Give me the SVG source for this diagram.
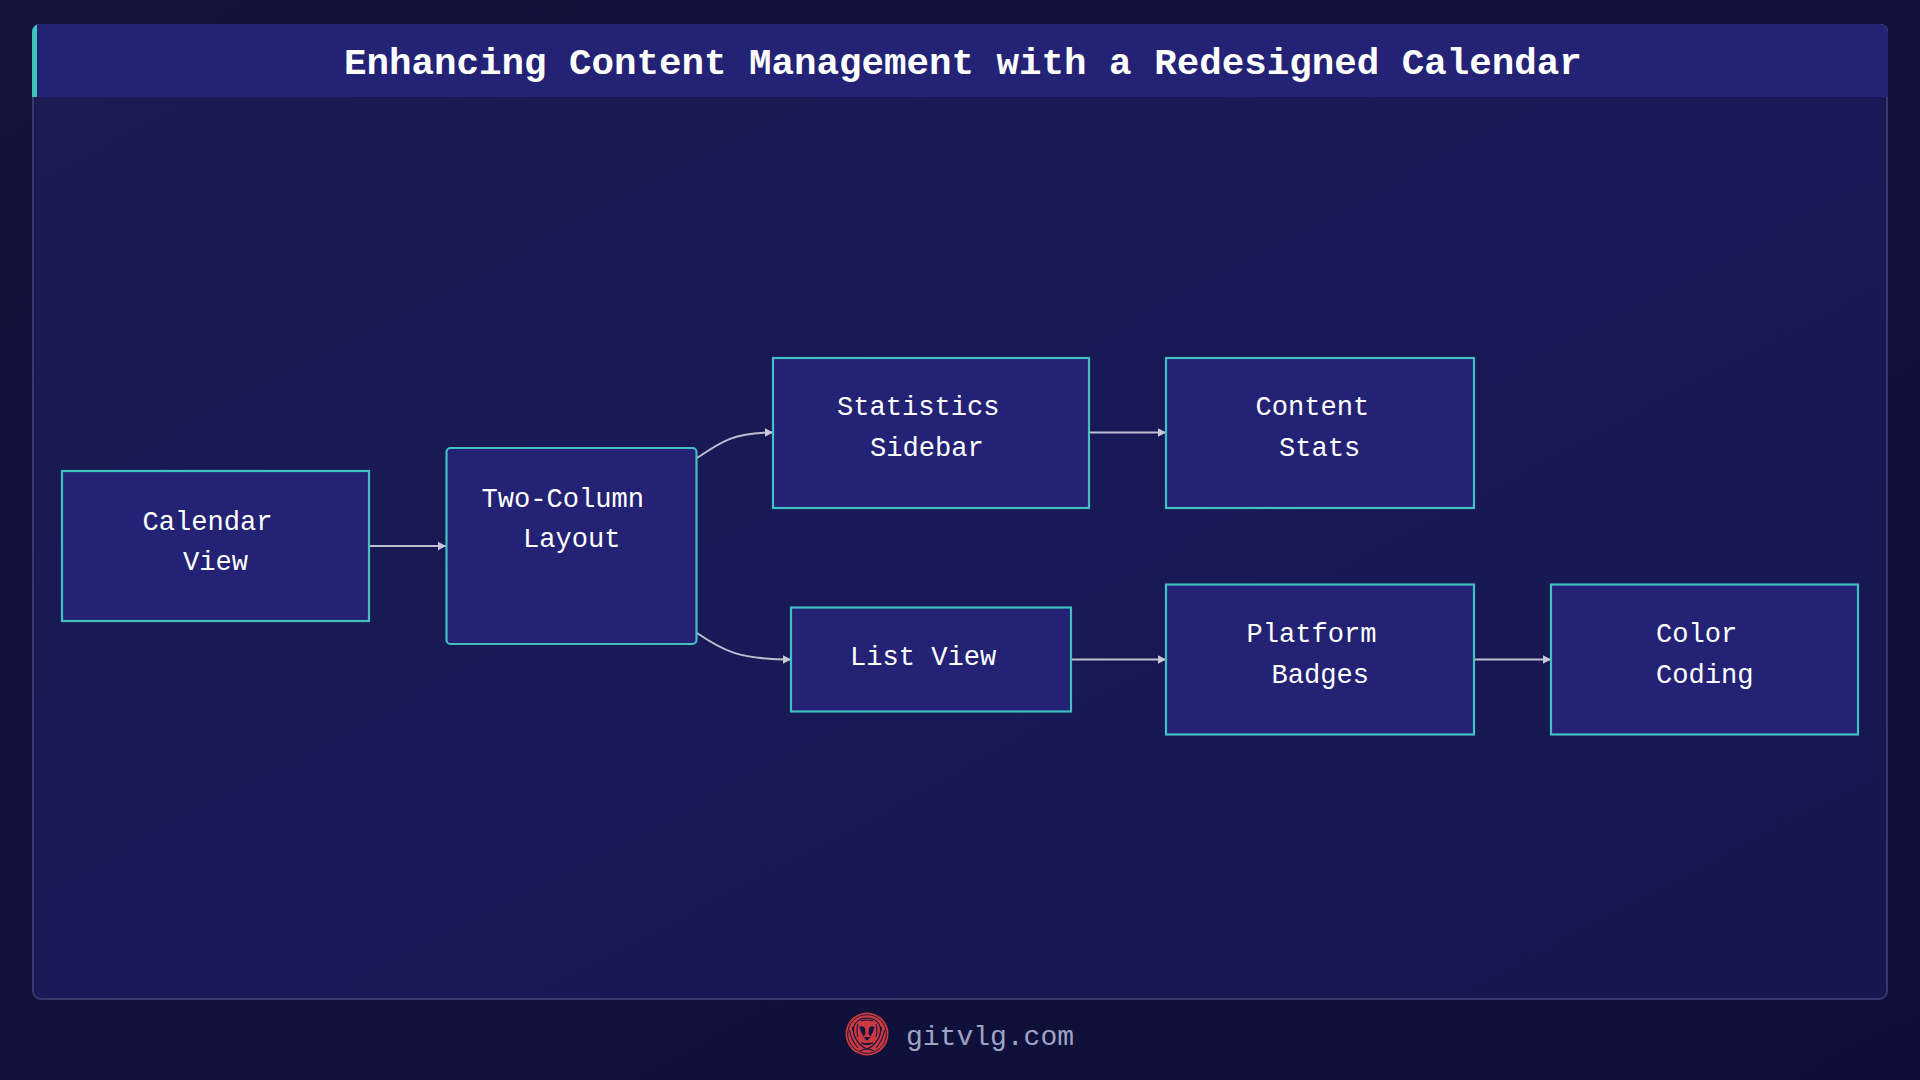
<svg xmlns="http://www.w3.org/2000/svg" width="1920" height="1080" viewBox="0 0 1920 1080">
<defs>
<linearGradient id="bg" x1="0" y1="0" x2="1" y2="1"><stop offset="0" stop-color="#13143c"/><stop offset="1" stop-color="#0d0f39"/></linearGradient>
<linearGradient id="panel" x1="0" y1="0" x2="1" y2="1"><stop offset="0" stop-color="#1b1b50"/><stop offset="0.5" stop-color="#181956"/><stop offset="1" stop-color="#17174f"/></linearGradient>
<marker id="arrow" markerUnits="userSpaceOnUse" markerWidth="10" markerHeight="10" refX="8.5" refY="5" orient="auto"><path d="M0,0.5 L8.5,5 L0,9.5 Z" fill="#c8c8d8"/></marker>
<clipPath id="hdr"><rect x="32" y="24" width="1856" height="90" rx="8"/></clipPath>
</defs>
<style>
.node{fill:#232275;stroke:#42bfc0;stroke-width:2.2}
.lbl{font-family:"Liberation Mono","DejaVu Sans Mono",monospace;font-size:27.1px;fill:#ffffff}
.edge{fill:none;stroke:#bfbfd2;stroke-width:2;marker-end:url(#arrow)}
.title{font-family:"Liberation Mono","DejaVu Sans Mono",monospace;font-size:37.5px;font-weight:700;fill:#ffffff}
.foot{font-family:"Liberation Mono","DejaVu Sans Mono",monospace;font-size:28px;fill:#9ea3c4}
.ink{fill:none;stroke:#14143f;stroke-width:1.1}
</style>
<rect width="1920" height="1080" fill="url(#bg)"/>
<rect x="33" y="25" width="1854" height="974" rx="8" fill="url(#panel)" stroke="#38386c" stroke-width="2"/>
<g id="header">
<g clip-path="url(#hdr)">
<rect x="32" y="24" width="1856" height="73" fill="#3fc4bc"/>
<rect x="37" y="24" width="1851" height="73" fill="#232275"/>
</g>
<text class="title" x="344" y="73.5">Enhancing Content Management with a Redesigned Calendar</text>
</g>
<g id="connectors">
<path class="edge" d="M370,546 L446,546"/>
<path class="edge" d="M697,458 C722,441 735,432.5 773,432.5"/>
<path class="edge" d="M697,633 C722,650 738,659.5 791,659.5"/>
<path class="edge" d="M1090,432.5 L1166,432.5"/>
<path class="edge" d="M1072,659.5 L1166,659.5"/>
<path class="edge" d="M1475,659.5 L1551,659.5"/>
</g>
<g id="calendar-view"><rect class="node" x="62" y="471" width="307" height="150"/><text class="lbl" x="142.5" y="529.5">Calendar</text><text class="lbl" x="183" y="569.5">View</text></g>
<g id="two-column-layout"><rect class="node" x="446.5" y="448" width="250" height="196" rx="4"/><text class="lbl" x="481.5" y="506.5">Two-Column</text><text class="lbl" x="523" y="546.5">Layout</text></g>
<g id="statistics-sidebar"><rect class="node" x="773" y="358" width="316" height="150"/><text class="lbl" x="837" y="415">Statistics</text><text class="lbl" x="870" y="456">Sidebar</text></g>
<g id="list-view"><rect class="node" x="791" y="607.5" width="280" height="104"/><text class="lbl" x="850" y="665">List View</text></g>
<g id="content-stats"><rect class="node" x="1166" y="358" width="308" height="150"/><text class="lbl" x="1255.5" y="415">Content</text><text class="lbl" x="1279" y="456">Stats</text></g>
<g id="platform-badges"><rect class="node" x="1166" y="584.5" width="308" height="150"/><text class="lbl" x="1246.5" y="642">Platform</text><text class="lbl" x="1271.5" y="683">Badges</text></g>
<g id="color-coding"><rect class="node" x="1551" y="584.5" width="307" height="150"/><text class="lbl" x="1656" y="642">Color</text><text class="lbl" x="1656" y="683">Coding</text></g>
<g id="footer">
<g id="logo">
<circle cx="867" cy="1034" r="21.5" fill="#cc3a40"/>
<circle cx="867" cy="1034" r="19.3" fill="none" stroke="#14143f" stroke-width="0.9"/>
<path class="ink" d="M849.5,1030 Q851,1040 858,1048 M884.5,1030 Q883,1040 876,1048 M852.5,1027 Q853.5,1037 860,1044 M881.5,1027 Q880.5,1037 874,1044 M860,1051 Q867,1047 874,1051"/>
<path d="M867,1018 C874,1018 880,1022 880.5,1029 C881,1037 875,1046 867,1049 C859,1046 853,1037 853.5,1029 C854,1022 860,1018 867,1018 Z" fill="#cc3a40" stroke="#14143f" stroke-width="1.2"/>
<path class="ink" d="M858,1024 Q856,1030 858,1037 M876,1024 Q878,1030 876,1037 M861,1021 Q867,1019 873,1021"/>
<path d="M859.5,1027 Q863,1025 865,1028 L865.5,1034 L863,1037 L871,1037 L868.5,1034 L869,1028 Q871,1025 874.5,1027 L873,1032 L869.5,1038 L867,1041 L864.5,1038 L861,1032 Z" fill="#14143f"/>
<path d="M861,1043 Q867,1046.5 873,1043 Q867,1044 861,1043 Z" fill="#14143f" stroke="#14143f" stroke-width="0.9"/>
</g>
<text class="foot" x="906" y="1045">gitvlg.com</text>
</g>
</svg>
